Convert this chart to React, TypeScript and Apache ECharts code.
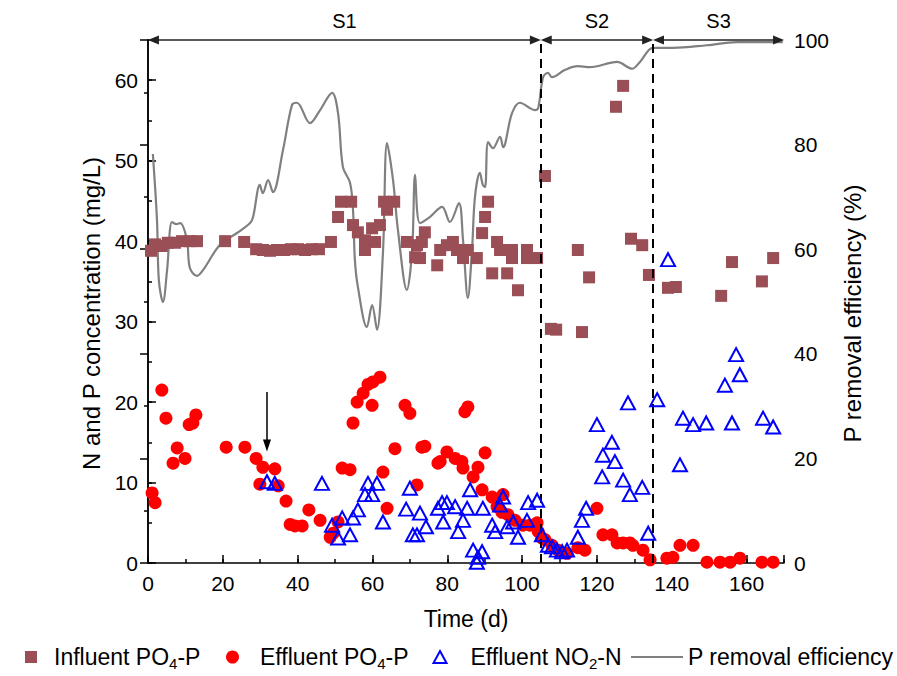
import React, { useEffect, useRef } from 'react';
import * as echarts from 'echarts';

// Time (d), concentration (mg/L)
const influentPO4: number[][] = [
  [0.8, 38.8], [1.9, 39.6], [3.7, 39.4], [5.3, 39.8], [7.2, 39.8], [9.1, 40.0], [11.2, 40.0], [13.1, 40.0],
  [20.6, 40.0], [25.7, 39.9], [28.9, 39.0], [30.7, 38.9], [32.6, 38.8], [34.5, 38.9], [36.4, 38.9], [38.2, 39.0],
  [40.1, 39.0], [42.0, 38.9], [43.8, 39.0], [45.7, 39.0], [48.9, 39.9], [50.8, 43.0], [51.6, 44.9], [54.3, 44.9],
  [54.8, 42.0], [56.1, 41.1], [58.0, 40.1], [58.0, 38.9], [59.9, 41.6], [60.7, 39.9], [62.0, 42.0], [63.1, 44.9],
  [65.8, 44.9], [63.9, 43.9], [69.2, 39.9], [71.9, 39.5], [71.4, 38.0], [74.0, 41.1], [73.2, 39.9], [72.7, 37.9],
  [78.1, 38.9], [77.3, 37.0], [79.9, 39.5], [81.5, 39.9], [82.6, 38.9], [84.2, 37.9], [85.5, 38.9], [87.9, 37.9],
  [89.3, 41.0], [90.1, 43.0], [90.9, 44.9], [93.3, 39.9], [94.1, 38.9], [92.0, 36.0], [96.0, 36.0], [97.3, 38.9],
  [97.3, 37.9], [98.9, 33.9], [101.3, 38.9], [101.3, 37.9], [104.0, 37.9],
  [106.1, 48.1], [107.7, 29.1], [109.1, 29.0], [114.9, 38.9], [116.0, 28.7], [117.9, 35.5], [125.1, 56.7],
  [127.0, 59.3], [129.1, 40.3], [132.1, 39.5], [133.9, 35.8],
  [139.0, 34.2], [141.1, 34.3], [153.2, 33.2], [156.1, 37.4], [164.1, 35.0], [167.1, 37.9]
];

const effluentPO4: number[][] = [
  [1.1, 8.7], [1.9, 7.5], [3.7, 21.5], [4.8, 18.0], [6.7, 12.4], [7.8, 14.3], [9.9, 13.0], [11.0, 17.2],
  [12.0, 17.4], [12.8, 18.4], [20.9, 14.4], [25.9, 14.4], [28.9, 13.0], [30.7, 11.9], [33.9, 11.7], [29.9, 9.8],
  [34.8, 9.6], [36.9, 7.7], [38.0, 4.8], [39.3, 4.6], [41.2, 4.6], [43.0, 6.6], [46.0, 5.3], [48.7, 3.2],
  [49.5, 3.7], [50.8, 5.1], [51.9, 11.8], [54.0, 11.6], [54.8, 17.4], [55.9, 20.0], [57.5, 21.1], [58.8, 22.2],
  [60.1, 22.5], [62.0, 23.1], [59.9, 19.6], [62.8, 11.3], [63.9, 6.8], [66.0, 14.2], [68.7, 19.6], [70.0, 18.6],
  [71.9, 9.7], [73.2, 14.4], [74.0, 14.5], [77.5, 12.4], [78.1, 12.6], [79.9, 13.8], [82.1, 13.0], [83.9, 12.6],
  [84.2, 11.8], [84.7, 18.8], [85.5, 19.4], [86.9, 10.7], [88.2, 11.9], [90.1, 13.7], [89.3, 9.1], [92.0, 8.2],
  [93.3, 7.0], [94.9, 8.5], [94.6, 6.3], [96.2, 6.0], [98.1, 5.3], [100.2, 4.7], [102.1, 4.7], [104.0, 5.0],
  [104.3, 3.9], [105.3, 3.1], [106.1, 2.9], [108.0, 2.2], [109.6, 1.6], [112.0, 1.2], [114.9, 1.9], [116.8, 1.6],
  [120.0, 6.8], [121.6, 3.5], [124.0, 3.5], [125.4, 2.5], [127.0, 2.5], [128.8, 2.5], [129.6, 2.2], [132.3, 1.6],
  [134.2, 0.4], [138.7, 0.6], [140.3, 0.7], [142.2, 2.2], [145.7, 2.2], [149.4, 0.1], [152.9, 0.1], [155.6, 0.1],
  [158.2, 0.6], [164.1, 0.1], [167.1, 0.1]
];

const effluentNO2: number[][] = [
  [31.8, 10.1], [33.9, 9.9], [46.5, 9.9], [49.2, 4.7], [50.8, 3.1], [51.9, 5.6], [54.0, 3.5], [54.8, 5.6],
  [56.1, 6.6], [58.0, 8.5], [58.8, 9.9], [59.9, 8.5], [61.2, 9.9], [62.8, 5.1], [69.0, 6.7], [70.0, 9.3],
  [70.8, 3.5], [71.9, 3.5], [72.7, 6.2], [74.3, 4.5], [77.5, 6.8], [78.6, 7.5], [79.9, 7.5], [78.9, 5.1],
  [82.1, 7.0], [82.9, 3.9], [84.2, 5.3], [85.3, 6.8], [86.1, 9.1], [86.9, 1.6], [88.2, 0.7], [89.3, 1.4],
  [87.9, 0.1], [89.5, 6.8], [92.0, 4.7], [92.8, 3.9], [94.1, 7.2], [94.9, 8.2], [96.0, 4.5], [97.6, 5.1],
  [98.9, 3.2], [101.3, 5.3], [101.6, 7.5], [104.0, 7.8], [105.3, 3.5], [106.9, 2.2], [108.0, 2.0], [109.3, 1.6],
  [110.7, 1.4], [112.0, 1.6], [114.9, 3.2], [116.0, 5.3], [117.1, 6.8], [120.0, 17.2], [121.4, 10.7], [121.6, 13.4],
  [124.0, 15.0], [124.8, 12.6], [127.0, 10.3], [128.3, 19.9], [128.8, 8.5], [132.1, 9.4], [133.7, 3.7],
  [136.1, 20.3], [139.0, 37.7], [142.2, 12.2], [143.0, 18.0], [145.7, 17.2], [149.2, 17.4], [154.2, 22.1],
  [156.1, 17.4], [157.2, 25.9], [158.2, 23.4], [164.4, 18.0], [167.1, 16.9]
];

// P removal efficiency (%)
const removalEff: number[][] = [
  [1.3, 78.2], [2.4, 65.6], [2.9, 54.1], [4.0, 49.9], [5.1, 56.0], [6.4, 65.2], [7.5, 64.8], [8.6, 65.0],
  [10.4, 61.8], [11.2, 56.4], [13.1, 54.9], [14.7, 56.0], [19.2, 60.8], [23.8, 63.1], [27.3, 65.0], [28.1, 66.2],
  [29.9, 72.3], [30.7, 70.7], [32.1, 73.2], [33.4, 70.9], [36.1, 79.0], [38.5, 87.6], [39.8, 88.0], [43.3, 84.1],
  [46.0, 86.6], [49.2, 89.9], [50.8, 86.0], [52.1, 75.7], [54.0, 72.7], [54.8, 67.5], [55.3, 57.9], [56.1, 52.8],
  [58.5, 45.1], [59.9, 49.3], [61.2, 44.6], [62.8, 59.3], [63.9, 80.3], [65.5, 73.2], [66.8, 63.7], [69.2, 52.2],
  [70.6, 59.8], [71.4, 74.2], [72.7, 65.0], [75.4, 66.2], [78.6, 68.1], [80.7, 65.2], [83.1, 68.8], [84.2, 61.8],
  [85.5, 50.7], [86.6, 59.8], [87.4, 70.0], [88.7, 74.6], [89.5, 72.3], [90.1, 71.9], [90.9, 80.5], [92.2, 79.3],
  [94.1, 81.5], [94.9, 79.5], [97.3, 86.0], [99.4, 88.0], [103.4, 86.6], [104.3, 87.0], [105.6, 92.9], [106.9, 93.7],
  [108.0, 92.9], [111.5, 94.3], [114.9, 95.0], [118.1, 94.8], [125.4, 95.8], [129.4, 94.5], [131.5, 95.8],
  [135.0, 98.5], [140.3, 98.5], [149.4, 99.0], [157.4, 99.6], [169.7, 99.6]
];

const stageBounds = [0, 105, 135, 170];
const stageNames = ['S1', 'S2', 'S3'];
const xTicks = [0, 20, 40, 60, 80, 100, 120, 140, 160];

const FONT = 'Liberation Sans, Arial, Helvetica, sans-serif';
const BLACK = '#000000';
const LEG_FS = 23;

const legendText = (pad: number) => ({
  fontSize: LEG_FS, color: BLACK, fontFamily: FONT, lineHeight: 28, padding: [0, 0, 0, pad],
  rich: { sub: { fontSize: 15, verticalAlign: 'bottom', lineHeight: 16, fontFamily: FONT, color: BLACK } },
});

export default function App() {
  const ref = useRef<HTMLDivElement>(null);
  useEffect(() => {
    if (!ref.current) return;
    const chart = echarts.init(ref.current, undefined, { renderer: 'svg' });

    const arrowLines: any[] = stageNames.map((name, i) => [
      {
        coord: [stageBounds[i] + 1.45, 65],
        symbol: 'triangle',
        symbolSize: [9, 11],
        label: { show: true, formatter: name, position: 'insideMiddleTop', distance: 9, fontSize: 20, color: BLACK, fontFamily: FONT },
        lineStyle: { color: '#222', width: 1.5, type: 'solid' },
      },
      { coord: [stageBounds[i + 1] - 1.45, 65], symbol: 'triangle', symbolSize: [9, 11] },
    ]);

    const tickAxisCommon = {
      axisLine: { show: false },
      axisLabel: { show: false },
      splitLine: { show: false },
      axisTick: { show: true, inside: true, length: 4, lineStyle: { color: BLACK, width: 1.5 } },
    };

    const option: any = {
      animation: false,
      textStyle: { fontFamily: FONT },
      grid: { left: 148, right: 113, top: 40, bottom: 113, containLabel: false },
      xAxis: [
        {
          type: 'value', min: 0, max: 170, interval: 20,
          axisLine: { show: true, lineStyle: { color: BLACK, width: 1.5 } },
          axisTick: { show: true, inside: true, length: 8, lineStyle: { color: BLACK, width: 1.5 } },
          axisLabel: {
            show: true, fontSize: 21, color: BLACK, margin: 10, fontFamily: FONT,
            formatter: (v: number) => (xTicks.indexOf(v) >= 0 ? String(v) : ''),
          },
          splitLine: { show: false },
          name: 'Time (d)', nameLocation: 'middle', nameGap: 44,
          nameTextStyle: { fontSize: 23, color: BLACK, fontFamily: FONT },
        },
        { type: 'value', min: 0, max: 170, interval: 10, position: 'bottom', ...tickAxisCommon },
      ],
      yAxis: [
        {
          type: 'value', min: 0, max: 65, interval: 10, position: 'left',
          axisLine: { show: true, lineStyle: { color: BLACK, width: 1.5 } },
          axisTick: { show: true, inside: true, length: 8, lineStyle: { color: BLACK, width: 1.5 } },
          axisLabel: { show: true, fontSize: 21, color: BLACK, margin: 10, fontFamily: FONT, showMaxLabel: false,
            formatter: (v: number) => (v % 10 === 0 ? String(v) : '') },
          splitLine: { show: false },
          name: 'N and P concentration (mg/L)', nameLocation: 'middle', nameGap: 44,
          nameTextStyle: { fontSize: 24, color: BLACK, fontFamily: FONT, padding: [0, 24, 0, 0] },
        },
        {
          type: 'value', min: 0, max: 100, interval: 20, position: 'right',
          axisLine: { show: true, lineStyle: { color: BLACK, width: 1.5 } },
          axisTick: { show: true, inside: true, length: 8, lineStyle: { color: BLACK, width: 1.5 } },
          minorTick: { show: true, splitNumber: 2, length: 4, lineStyle: { color: BLACK, width: 1.5 } },
          axisLabel: { show: true, fontSize: 21, color: BLACK, margin: 10, fontFamily: FONT },
          splitLine: { show: false },
          name: 'P removal efficiency (%)', nameLocation: 'middle', nameGap: 56, nameRotate: 90,
          nameTextStyle: { fontSize: 24, color: BLACK, fontFamily: FONT, padding: [0, 24, 0, 0] },
        },
        { type: 'value', min: 0, max: 65, interval: 5, position: 'left', ...tickAxisCommon },
      ],
      legend: [
        {
          data: [{ name: 'Influent PO4-P', icon: 'rect' }], left: 20, bottom: 0, itemWidth: 12, itemHeight: 12,
          formatter: () => 'Influent PO{sub|4}-P', textStyle: legendText(12),
        },
        {
          data: [{ name: 'Effluent PO4-P', icon: 'circle' }], left: 221, bottom: 0, itemWidth: 13, itemHeight: 13,
          formatter: () => 'Effluent PO{sub|4}-P', textStyle: legendText(16),
        },
        {
          data: [{ name: 'Effluent NO2-N', icon: 'triangle', itemStyle: { color: 'none', borderColor: '#0000FF', borderWidth: 2 } }],
          left: 426, bottom: 0, itemWidth: 13, itemHeight: 12,
          formatter: () => 'Effluent NO{sub|2}-N', textStyle: legendText(19),
        },
        {
          data: [{ name: 'P removal efficiency', icon: 'rect', itemStyle: { color: '#808080' } }],
          left: 626, bottom: 0, itemWidth: 52, itemHeight: 2,
          textStyle: legendText(0),
        },
      ],
      series: [
        {
          name: 'P removal efficiency', type: 'line', xAxisIndex: 0, yAxisIndex: 1,
          data: removalEff, smooth: 0.35, symbol: 'none', showSymbol: false,
          lineStyle: { color: '#808080', width: 2.2 }, itemStyle: { color: '#808080' }, z: 2,
        },
        {
          name: 'Influent PO4-P', type: 'scatter', xAxisIndex: 0, yAxisIndex: 0,
          data: influentPO4, symbol: 'rect', symbolSize: 12,
          itemStyle: { color: '#9A4E55', opacity: 1 }, z: 3,
          markLine: {
            silent: true, animation: false, symbol: 'none',
            label: { show: false },
            lineStyle: { color: BLACK, width: 2, type: [9, 6] },
            data: [
              { xAxis: stageBounds[1], symbol: 'none', label: { show: false } },
              { xAxis: stageBounds[2], symbol: 'none', label: { show: false } },
              ...arrowLines,
              [
                { coord: [31.8, 21.25], symbol: 'none', lineStyle: { color: BLACK, width: 1.5, type: 'solid' }, label: { show: false } },
                { coord: [31.8, 14.6], symbol: 'triangle', symbolSize: [8, 12] },
              ],
            ],
          },
        },
        {
          name: 'Effluent PO4-P', type: 'scatter', xAxisIndex: 0, yAxisIndex: 0,
          data: effluentPO4, symbol: 'circle', symbolSize: 13,
          itemStyle: { color: '#FF0000', opacity: 1 }, z: 4,
        },
        {
          name: 'Effluent NO2-N', type: 'scatter', xAxisIndex: 0, yAxisIndex: 0,
          data: effluentNO2, symbol: 'triangle', symbolSize: [14, 13],
          itemStyle: { color: 'none', borderColor: '#0000FF', borderWidth: 2, opacity: 1 }, z: 5,
        },
      ],
    };
    chart.setOption(option);
    return () => chart.dispose();
  }, []);
  return <div ref={ref} style={{ width: 897, height: 676, position: 'absolute', left: 0, top: 0 }} />;
}
